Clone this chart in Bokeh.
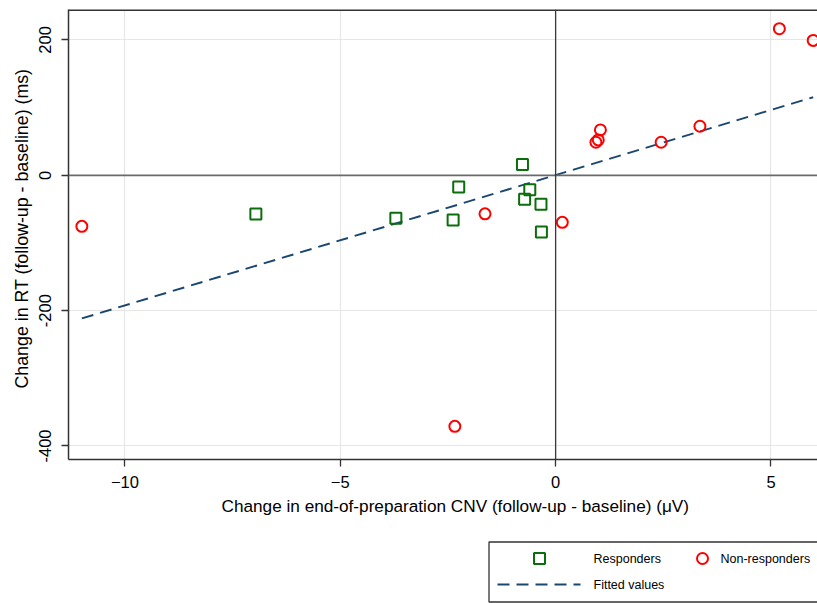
from bokeh.plotting import figure
from bokeh.models import Range1d, Span, FixedTicker, Title
from bokeh.layouts import column
from bokeh.embed import file_html
from bokeh.resources import INLINE
from bokeh.core.properties import value

# ---- data ----
resp_x = [-6.96, -3.71, -2.38, -2.25, -0.77, -0.72, -0.60, -0.34, -0.33]
resp_y = [-57.2, -63.6, -66.0, -17.2, 15.8, -35.5, -21.2, -42.9, -83.8]

nonresp_x = [-11.0, -2.34, -1.64, 0.155, 0.935, 0.99, 1.04, 2.45, 3.35, 5.195, 5.98]
nonresp_y = [-75.4, -371.0, -57.0, -69.5, 48.8, 52.3, 67.1, 48.8, 72.5, 216.6, 199.3]

fit_x = [-11.0, 5.98]
fit_y = [-211.5, 115.4]

x_ticks = [-10, -5, 0, 5]
x_tick_labels = ["\u221210", "\u22125", "0", "5"]
y_ticks = [-400, -200, 0, 200]
y_tick_labels = ["-400", "-200", "0", "200"]

x_title = "Change in end-of-preparation CNV (follow-up - baseline) (\u03bcV)"
y_title = "Change in RT (follow-up - baseline) (ms)"
legend_labels = ["Responders", "Non-responders", "Fitted values"]

xmin, xmax = -11.31, 6.08
ymin, ymax = -420.0, 245.0

FONT = "Liberation Sans"
GREEN = "#0a6e0a"
RED = "#ff0000"
NAVY = "#1a476f"
FRAME = "#333333"

LEFT = 68
TOP = 9
W = 817
H_MAIN = 530
H_LEG = 73

p = figure(width=W, height=H_MAIN, x_range=Range1d(xmin, xmax), y_range=Range1d(ymin, ymax),
           output_backend="svg", toolbar_location=None,
           min_border_left=LEFT, min_border_right=0, min_border_top=TOP,
           min_border_bottom=H_MAIN - TOP - 450)
p.outline_line_color = None
p.background_fill_color = "white"
p.border_fill_color = "white"

for ax, ticks, labels in ((p.xaxis[0], x_ticks, x_tick_labels), (p.yaxis[0], y_ticks, y_tick_labels)):
    ax.ticker = FixedTicker(ticks=ticks)
    ax.major_label_overrides = {t: l for t, l in zip(ticks, labels)}
    ax.minor_tick_line_color = None
    ax.major_tick_in = 0
    ax.major_tick_out = 7
    ax.major_tick_line_color = FRAME
    ax.major_tick_line_width = 1.3
    ax.axis_line_color = FRAME
    ax.axis_line_width = 1.5
    ax.major_label_text_font = FONT
    ax.major_label_text_font_size = "16.5px"
    ax.major_label_text_color = "#000000"

p.yaxis.major_label_orientation = "vertical"
p.xaxis.major_label_standoff = 9
p.yaxis.major_label_standoff = 10

p.xgrid.grid_line_color = "#e6e6e6"
p.ygrid.grid_line_color = "#e6e6e6"
p.xgrid.grid_line_width = 1.2
p.ygrid.grid_line_width = 1.2

# top frame line
p.add_layout(Span(location=ymax, dimension="width", line_color=FRAME, line_width=3))
# zero reference lines
p.add_layout(Span(location=0, dimension="width", line_color="#6a6a6a", line_width=1.8))
p.add_layout(Span(location=0, dimension="height", line_color="#3a3a3a", line_width=1.3))

p.line(fit_x, fit_y, line_color=NAVY, line_width=2, line_dash="12 7")
p.scatter(resp_x, resp_y, marker="square", size=11, fill_color=None,
          line_color=GREEN, line_width=2)
p.scatter(nonresp_x, nonresp_y, marker="circle", size=11, fill_color=None,
          line_color=RED, line_width=2)

# axis titles as side-panel titles (allows Stata-like off-centre placement)
p.add_layout(Title(text=x_title, align="left", offset=221 - LEFT, standoff=6,
                   text_font=FONT, text_font_size="17.2px", text_font_style="normal",
                   text_color="#000000"), "below")
p.add_layout(Title(text=y_title, align="left", offset=459 - 388, standoff=10,
                   text_font=FONT, text_font_size="17.8px", text_font_style="normal",
                   text_color="#000000"), "left")

# ---- legend panel (page pixel coordinates; frame aligned with main frame) ----
lg = figure(width=W, height=H_LEG, x_range=Range1d(LEFT, W), y_range=Range1d(H_MAIN + H_LEG, H_MAIN),
            output_backend="svg", toolbar_location=None,
            min_border_left=LEFT, min_border_right=0, min_border_top=0, min_border_bottom=0)
lg.axis.visible = False
lg.grid.visible = False
lg.outline_line_color = None
lg.background_fill_color = "white"
lg.border_fill_color = "white"

lg.quad(left=[488.5], right=[840], top=[541.5], bottom=[601.5], fill_color=None,
        line_color=FRAME, line_width=1.3)
lg.scatter([539], [558], marker="square", size=11, fill_color=None, line_color=GREEN, line_width=2)
lg.scatter([702], [558], marker="circle", size=11, fill_color=None, line_color=RED, line_width=2)
lg.line([497, 580], [584, 584], line_color=NAVY, line_width=2, line_dash="12 7")
lg.text(x=[593, 720, 593], y=[558, 558, 584], text=legend_labels,
        text_font=value(FONT), text_font_size="12.5px", text_baseline="middle",
        text_align="left", text_color="#000000")

layout = column(p, lg, spacing=0)
open("out.html", "w").write(file_html(layout, INLINE))
